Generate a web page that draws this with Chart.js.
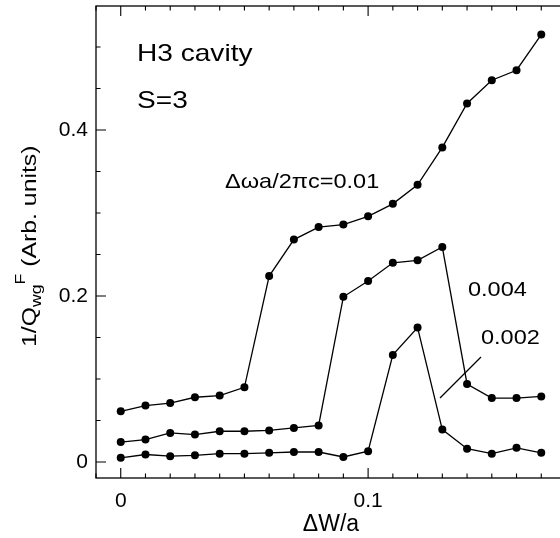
<!DOCTYPE html>
<html>
<head>
<meta charset="utf-8">
<script src="https://cdn.jsdelivr.net/npm/chart.js@4.4.1/dist/chart.umd.min.js"></script>
<style>
	html, body { margin: 0; padding: 0; background: #fff; overflow: hidden; }
	canvas { display: block; }
</style>
</head>
<body>
<canvas id="cavityChart" width="570" height="538"></canvas>
<script>
// ΔW/a steps
const widthSteps = [0, 0.01, 0.02, 0.03, 0.04, 0.05, 0.06, 0.07, 0.08, 0.09,
	0.10, 0.11, 0.12, 0.13, 0.14, 0.15, 0.16, 0.17];

// 1/Q_wg^F for three detunings Δωa/2πc
const detune001 = [0.061, 0.068, 0.071, 0.078, 0.080, 0.090, 0.224, 0.268, 0.283, 0.286,
	0.296, 0.311, 0.334, 0.379, 0.432, 0.460, 0.472, 0.515];
const detune0004 = [0.024, 0.027, 0.035, 0.033, 0.037, 0.037, 0.038, 0.041, 0.044, 0.199,
	0.218, 0.240, 0.243, 0.259, 0.094, 0.077, 0.077, 0.079];
const detune0002 = [0.005, 0.009, 0.007, 0.008, 0.010, 0.010, 0.011, 0.012, 0.012, 0.006,
	0.013, 0.129, 0.162, 0.039, 0.016, 0.010, 0.017, 0.011];

const xTickLabels = [0, 0.1];
const yTickLabels = [0, 0.2, 0.4];

const FONT = "'Liberation Sans', Arial, Helvetica, sans-serif";

function toPoints(values) {
	return widthSteps.map((x, i) => ({ x: x, y: values[i] }));
}

function labelIfMajor(majors) {
	return function (value) {
		const hit = majors.find(m => Math.abs(m - value) < 1e-9);
		return hit === undefined ? '' : String(hit);
	};
}

function isMajor(majors, value) {
	return majors.some(m => Math.abs(m - value) < 1e-9);
}

// text stretched horizontally so it fills the width seen in the original
function wideText(ctx, text, x, y, size, stretch) {
	ctx.save();
	ctx.font = size + 'px ' + FONT;
	ctx.textBaseline = 'alphabetic';
	ctx.textAlign = 'left';
	ctx.translate(x, y);
	ctx.scale(stretch, 1);
	ctx.fillText(text, 0, 0);
	ctx.restore();
}

const framePlugin = {
	id: 'framePlugin',
	afterDraw(chart) {
		const ctx = chart.ctx;
		const area = chart.chartArea;
		const xs = chart.scales.x;
		const ys = chart.scales.y;

		ctx.save();
		ctx.strokeStyle = '#000';
		ctx.fillStyle = '#000';
		ctx.lineWidth = 1.3;
		ctx.strokeRect(area.left, area.top, area.right - area.left, area.bottom - area.top);

		// inward ticks (right side ones stay short, mostly off the page)
		ctx.lineWidth = 1.1;
		ctx.beginPath();
		xs.ticks.forEach(t => {
			const px = xs.getPixelForValue(t.value);
			const len = isMajor(xTickLabels, t.value) ? 10 : 4.5;
			ctx.moveTo(px, area.bottom);
			ctx.lineTo(px, area.bottom - len);
			ctx.moveTo(px, area.top);
			ctx.lineTo(px, area.top + len);
		});
		ys.ticks.forEach(t => {
			const py = ys.getPixelForValue(t.value);
			const len = isMajor(yTickLabels, t.value) ? 10 : 4.5;
			ctx.moveTo(area.left, py);
			ctx.lineTo(area.left + len, py);
			ctx.moveTo(area.right, py);
			ctx.lineTo(area.right - 4.5, py);
		});
		ctx.stroke();

		// leader line for 0.002
		ctx.lineWidth = 1.2;
		ctx.beginPath();
		ctx.moveTo(440, 398);
		ctx.lineTo(481, 357);
		ctx.stroke();

		// annotations
		wideText(ctx, 'H3 cavity', 137, 61, 24, 1.17);
		wideText(ctx, 'S=3', 137, 108, 24, 1.17);
		wideText(ctx, 'Δωa/2πc=0.01', 225, 188, 21, 1.12);
		wideText(ctx, '0.004', 468, 296, 21, 1.12);
		wideText(ctx, '0.002', 481, 344, 21, 1.12);

		// y axis title with sub/superscript
		ctx.translate(36, 347);
		ctx.rotate(-Math.PI / 2);
		ctx.scale(1.18, 1);
		ctx.textBaseline = 'alphabetic';
		ctx.textAlign = 'left';
		let x = 0;
		ctx.font = '21px ' + FONT;
		ctx.fillText('1/Q', x, 0);
		x += ctx.measureText('1/Q').width;
		ctx.font = '15px ' + FONT;
		ctx.fillText('wg', x, 5);
		x += ctx.measureText('wg').width;
		ctx.fillText('F', x, -11);
		x += ctx.measureText('F').width;
		ctx.font = '21px ' + FONT;
		ctx.fillText(' (Arb. units)', x, 0);
		ctx.restore();
	}
};

function lineSet(values) {
	return {
		data: toPoints(values),
		showLine: true,
		borderColor: '#000',
		borderWidth: 1.3,
		backgroundColor: '#000',
		pointBackgroundColor: '#000',
		pointBorderColor: '#000',
		pointBorderWidth: 0,
		pointRadius: 4,
		tension: 0
	};
}

function noEdgePadding(s) {
	s.paddingTop = 0;
	s.paddingBottom = 0;
	s.paddingLeft = 0;
	s.paddingRight = 0;
}

const ctx = document.getElementById('cavityChart').getContext('2d');

// eslint-disable-next-line no-undef
new Chart(ctx, {
	type: 'scatter',
	data: {
		datasets: [lineSet(detune001), lineSet(detune0004), lineSet(detune0002)]
	},
	options: {
		responsive: false,
		animation: false,
		layout: { padding: { top: 6, right: 2, left: 0, bottom: 0 } },
		plugins: { legend: { display: false }, tooltip: { enabled: false } },
		scales: {
			x: {
				type: 'linear',
				position: 'bottom',
				min: -0.01,
				max: 0.18,
				grid: { display: false, drawTicks: false },
				border: { display: false },
				ticks: {
					stepSize: 0.01,
					includeBounds: false,
					autoSkip: false,
					maxRotation: 0,
					padding: 11,
					color: '#000',
					font: { family: FONT, size: 21 },
					callback: labelIfMajor(xTickLabels)
				},
				title: {
					display: true,
					text: 'ΔW/a',
					color: '#000',
					font: { family: FONT, size: 23 },
					padding: { top: 0, bottom: 0 }
				},
				afterFit: s => { s.height = 60; noEdgePadding(s); }
			},
			y: {
				type: 'linear',
				min: -0.0193,
				max: 0.5494,
				grid: { display: false, drawTicks: false },
				border: { display: false },
				ticks: {
					stepSize: 0.05,
					includeBounds: false,
					autoSkip: false,
					padding: 8,
					color: '#000',
					font: { family: FONT, size: 21 },
					callback: labelIfMajor(yTickLabels)
				},
				afterFit: s => { s.width = 96; noEdgePadding(s); }
			}
		}
	},
	plugins: [framePlugin]
});
</script>
</body>
</html>
